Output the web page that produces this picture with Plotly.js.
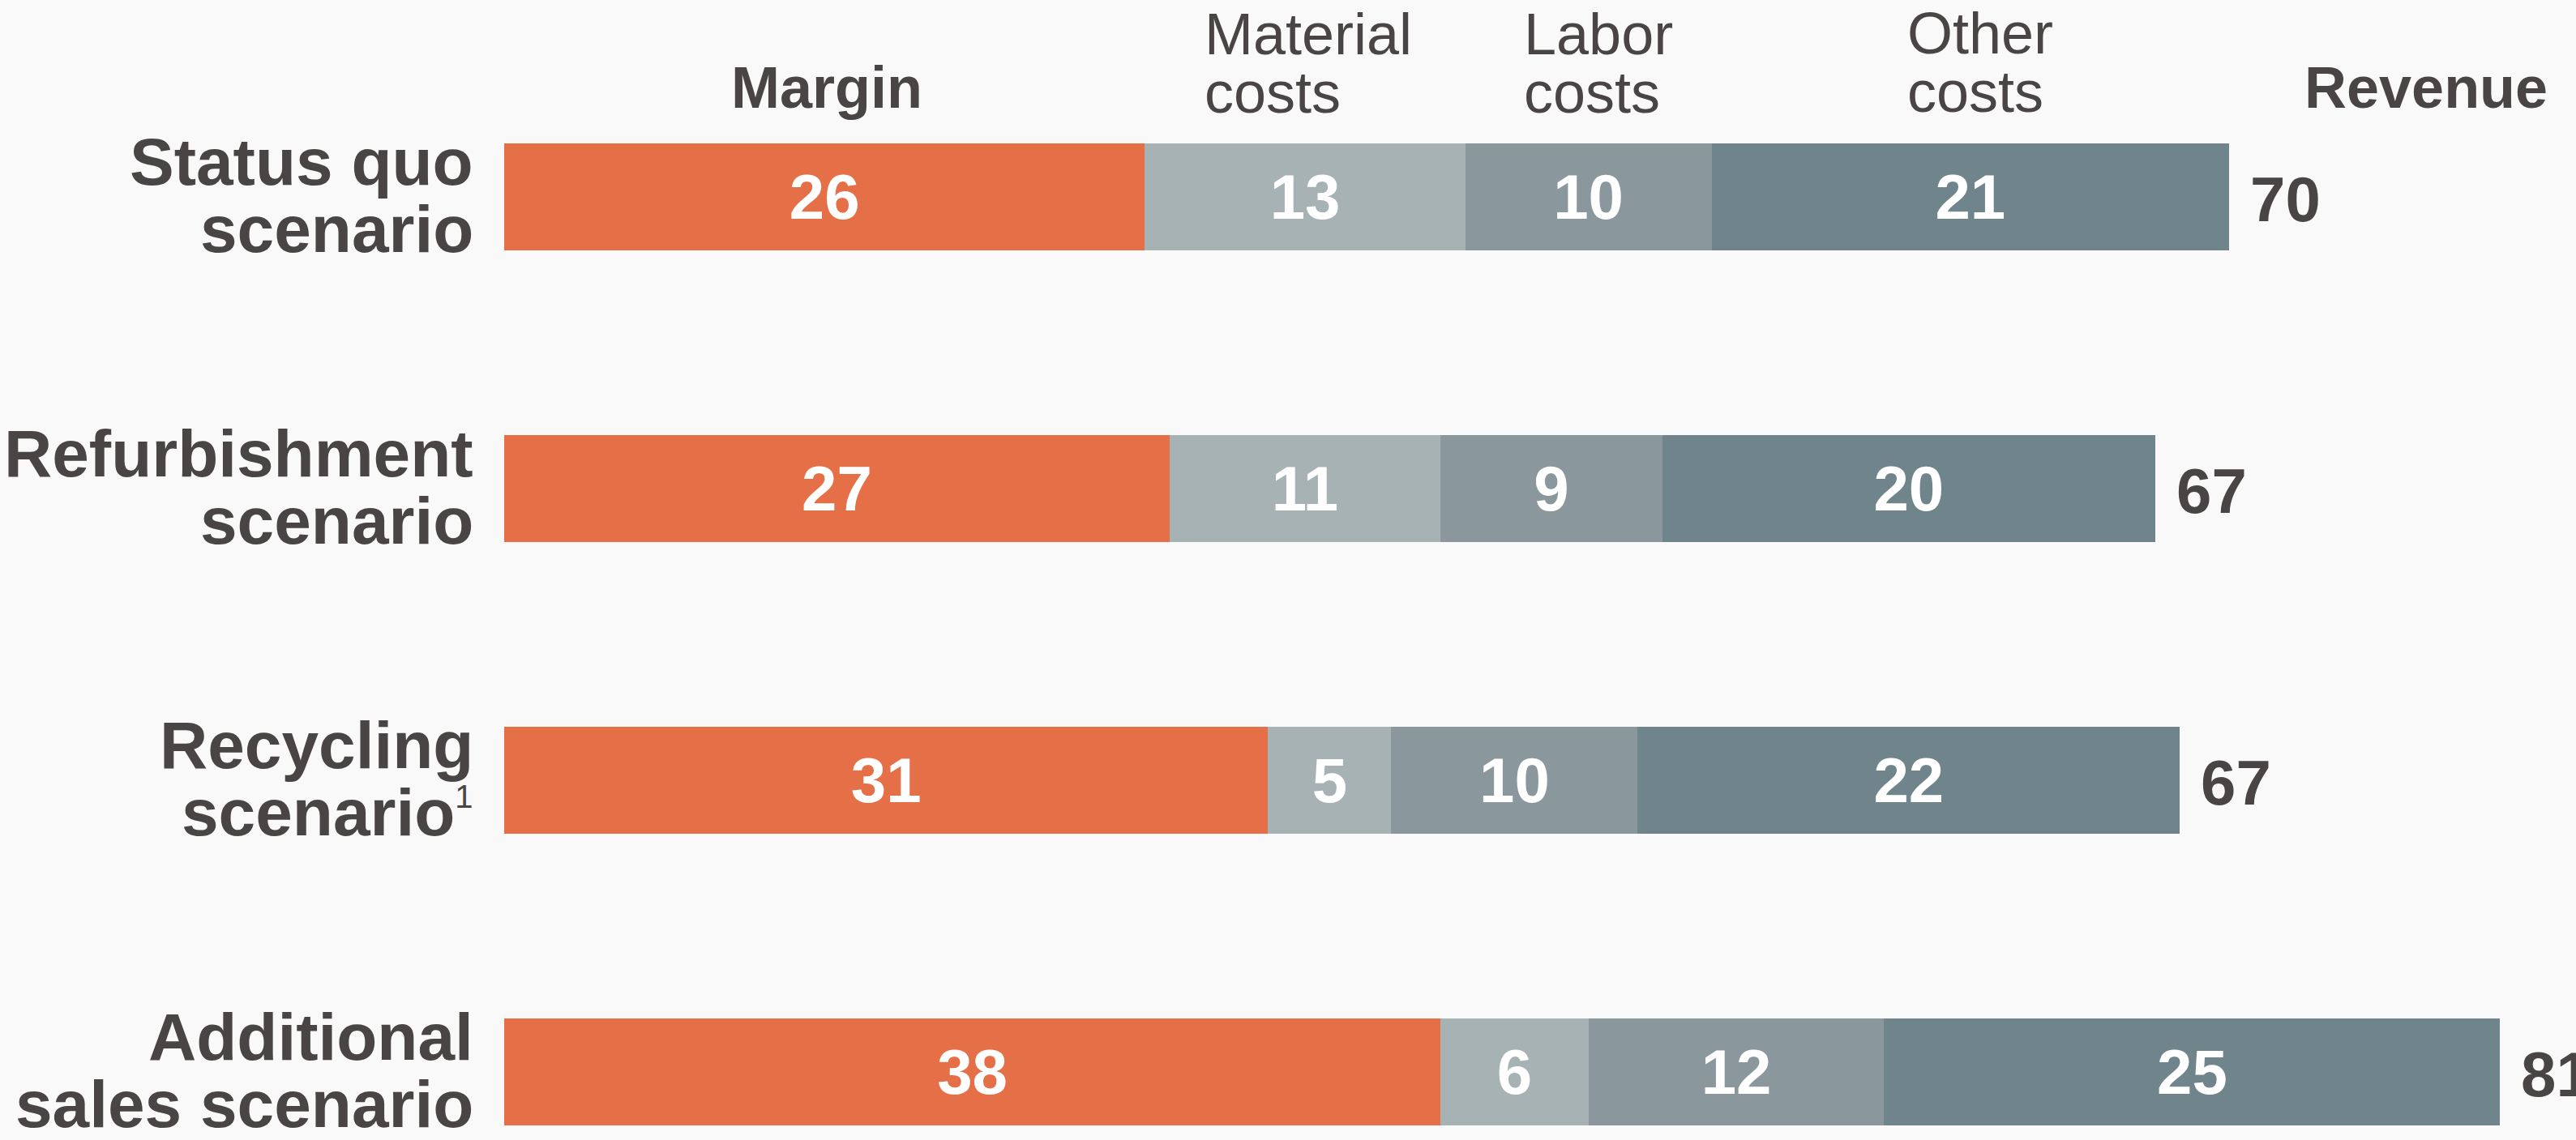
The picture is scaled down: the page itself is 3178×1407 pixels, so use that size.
<!DOCTYPE html>
<html>
<head>
<meta charset="utf-8">
<script src="https://cdn.plot.ly/plotly-3.0.1.min.js"></script>
<style>
  html, body { margin: 0; padding: 0; background: #f9f9f9; }
  #chart { width: 3178px; height: 1407px; }
</style>
</head>
<body>
<div id="chart"></div>
<script>
// ---- data ----
const categories = ["Status quo scenario", "Refurbishment scenario", "Recycling scenario", "Additional sales scenario"];
const categoryLine1 = ["Status quo", "Refurbishment", "Recycling", "Additional"];
const categoryLine2 = ["scenario", "scenario", "scenario<sup><span style=\"font-size:40px;font-weight:normal\">1</span></sup>", "sales scenario"];
const seriesNames = ["Margin", "Material costs", "Labor costs", "Other costs"];
const marginVals   = [26, 27, 31, 38];
const materialVals = [13, 11, 5, 6];
const laborVals    = [10, 9, 10, 12];
const otherVals    = [21, 20, 22, 25];
const revenueVals  = [70, 67, 67, 81];
const revenueHeader = "Revenue";

// ---- style ----
const colors = ["#e56f46", "#a6b2b3", "#8a979d", "#6f848b"];
const textColor = "#4a4545";
const FONT = "Liberation Sans, Arial, Helvetica, sans-serif";
const PLOT_LEFT = 622;
const PX_PER_UNIT = 30.4;
const FIG_W = 3178, FIG_H = 1407;
const BAR_SPACING = 360, FIRST_CENTER = 243;

const seriesVals = [marginVals, materialVals, laborVals, otherVals];

const traces = seriesVals.map((vals, i) => ({
  type: "bar",
  orientation: "h",
  name: seriesNames[i],
  y: categories,
  x: vals,
  width: 0.364,
  marker: { color: colors[i], line: { width: 0 } },
  text: vals.map(v => String(v)),
  textposition: "inside",
  insidetextanchor: "middle",
  textangle: 0,
  constraintext: "none",
  insidetextfont: { family: FONT, size: 78, color: "#ffffff", weight: "bold" },
  hoverinfo: "skip"
}));

// centre of a text line box relative to its baseline (Liberation Sans metrics)
const boxCenterAbove = f => 0.3465 * f;

const annotations = [];

// category labels (two lines, tight line spacing)
categories.forEach((c, i) => {
  const f = 82;
  annotations.push({
    xref: "paper", yref: "y", x: 0, y: c, xanchor: "right", yanchor: "middle",
    xshift: -36, yshift: 15 + boxCenterAbove(f),
    text: categoryLine1[i], showarrow: false,
    font: { family: FONT, size: f, color: textColor, weight: "bold" }
  });
  annotations.push({
    xref: "paper", yref: "y", x: 0, y: c, xanchor: "right", yanchor: "middle",
    xshift: -36, yshift: -68 + boxCenterAbove(f),
    text: categoryLine2[i], showarrow: false,
    font: { family: FONT, size: f, color: textColor, weight: "bold" }
  });
});

// revenue labels at bar end
categories.forEach((c, i) => {
  const end = marginVals[i] + materialVals[i] + laborVals[i] + otherVals[i];
  annotations.push({
    xref: "x", yref: "y", x: end, y: c, xanchor: "left", yanchor: "middle",
    xshift: 24, yshift: -3,
    text: String(revenueVals[i]), showarrow: false,
    font: { family: FONT, size: 78, color: textColor, weight: "bold" }
  });
});

// header helper: pixel position -> paper annotation with shifts
function header(text, px, baseline, size, bold, anchor) {
  return {
    xref: "paper", yref: "paper", x: 0, y: 1,
    xanchor: anchor, yanchor: "middle",
    xshift: px - PLOT_LEFT - (anchor === "left" ? 2 : 0),
    yshift: -(baseline - boxCenterAbove(size)),
    text: text, showarrow: false,
    font: { family: FONT, size: size, color: textColor, weight: bold ? "bold" : "normal" }
  };
}

const hdrMargin = seriesNames[0];
const [matA, matB] = ["Material", "costs"];
const [labA, labB] = ["Labor", "costs"];
const [othA, othB] = ["Other", "costs"];

annotations.push(header(hdrMargin, 1020, 133, 72, true, "center"));
annotations.push(header(matA, 1486, 67, 72, false, "left"));
annotations.push(header(matB, 1486, 139, 72, false, "left"));
annotations.push(header(labA, 1880, 67, 72, false, "left"));
annotations.push(header(labB, 1880, 139, 72, false, "left"));
annotations.push(header(othA, 2353, 66, 72, false, "left"));
annotations.push(header(othB, 2353, 138, 72, false, "left"));
annotations.push(header(revenueHeader, 2843, 133, 72, true, "left"));

const yTop = (0 - FIRST_CENTER) / BAR_SPACING;
const yBottom = (FIG_H - FIRST_CENTER) / BAR_SPACING;

const layout = {
  width: FIG_W, height: FIG_H,
  margin: { l: PLOT_LEFT, r: 0, t: 0, b: 0, pad: 0 },
  paper_bgcolor: "#f9f9f9",
  plot_bgcolor: "#f9f9f9",
  barmode: "stack",
  bargap: 0,
  showlegend: false,
  xaxis: {
    range: [0, (FIG_W - PLOT_LEFT) / PX_PER_UNIT],
    showgrid: false, zeroline: false, showticklabels: false, showline: false, ticks: ""
  },
  yaxis: {
    type: "category",
    categoryorder: "array", categoryarray: categories,
    range: [yBottom, yTop],
    showgrid: false, zeroline: false, showticklabels: false, showline: false, ticks: ""
  },
  annotations: annotations,
  font: { family: FONT, color: textColor }
};

Plotly.newPlot("chart", traces, layout, { displayModeBar: false, staticPlot: true });
</script>
</body>
</html>
